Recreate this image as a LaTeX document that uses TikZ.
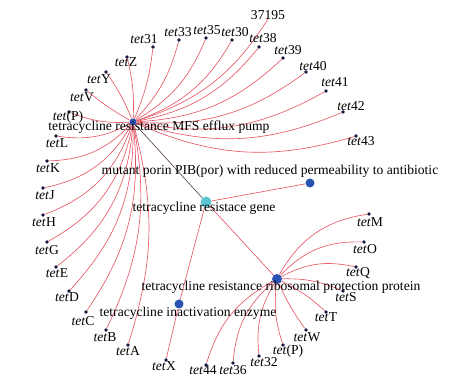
\documentclass[tikz,border=0pt]{standalone}
\usepackage{fontspec}
\setmainfont{Liberation Serif}
\usetikzlibrary{backgrounds}
\definecolor{edgered}{RGB}{230,88,102}
\definecolor{leafc}{RGB}{22,22,62}
\definecolor{hubblue}{RGB}{42,82,178}
\definecolor{genecyan}{RGB}{92,198,208}
\definecolor{darkedge}{RGB}{80,60,62}
\begin{document}
\begin{tikzpicture}[x=1pt,y=-1pt,
  edge/.style={draw=edgered,line width=0.65pt},
  leaf/.style={circle,fill=leafc,inner sep=0pt,minimum size=3.8pt},
  hub/.style={circle,fill=hubblue,inner sep=0pt},
  genenode/.style={circle,fill=genecyan,inner sep=0pt,minimum size=11pt},
  lab/.style={anchor=base,inner sep=0pt,font=\fontsize{13.6}{15}\selectfont}]
\useasboundingbox (0,0) rectangle (451,387);
% main nodes
\node[hub,minimum size=7pt] (mfs) at (133,122) {};
\node[genenode] (gene) at (206,202) {};
\node[hub,minimum size=9pt] (porin) at (310,183) {};
\node[hub,minimum size=9pt] (inact) at (179,304) {};
\node[hub,minimum size=10pt] (ribo) at (277,279) {};
\node[leaf] (tX) at (166,360) {};
\coordinate (m0) at (268,19);
% MFS leaves
\foreach \n/\x/\y/\lx/\ly/\sfx/\b/\a in {
  t30/232/40/235/37/30/right/20,
  t38/259/47/263/43/38/right/20,
  t39/283/58/288/55/39/right/20,
  t40/306/72/313/71/40/right/20,
  t41/326/91/335/87/41/right/20,
  t42/343/112/351/111/42/right/20,
  t43/356/136/361/146/43/right/20,
  t35/206/38/207/35/35/right/18,
  t33/179/40/178/37/33/right/14,
  t31/153/47/144/44/31/right/8,
  tZ/127/57/126/67/Z/right/8,
  tY/106/72/99/84/Y/right/6,
  tV/86/90/82/102/V/left/5,
  tP/69/112/68/121/(P)/left/12,
  tL/56/136/57/148/L/left/18,
  tK/47/161/48/173/K/left/22,
  tJ/43/188/45/200/J/left/24,
  tH/43/215/44/227/H/left/25,
  tG/47/242/47/255/G/left/25,
  tE/56/267/57/278/E/left/24,
  tD/69/291/67/302/D/left/22,
  tC/86/312/83/326/C/left/20,
  tB/106/330/105/342/B/left/18,
  tA/128/345/128/356/A/left/16}{
  \node[leaf] (\n) at (\x,\y) {};
  \node[lab] (\n-l) at (\lx,\ly) {\textit{tet}\sfx};
  \begin{scope}[on background layer]
    \draw[edge] (mfs) to[bend \b=\a] (\n);
  \end{scope}
}
% ribosomal leaves
\foreach \n/\x/\y/\lx/\ly/\sfx/\b/\a in {
  rM/369/214/370/227/M/left/26,
  rO/364/242/365/254/O/left/24,
  rQ/356/267/358/277/Q/left/20,
  rS/343/291/346/302/S/left/12,
  rT/326/312/326/322/T/left/8,
  rW/306/330/307/342/W/right/6,
  rP/283/345/288/355/(P)/right/12,
  r32/259/356/264/367/32/right/18,
  r36/233/363/233/375/36/right/22,
  r44/206/365/203/375/44/right/22}{
  \node[leaf] (\n) at (\x,\y) {};
  \node[lab] (\n-l) at (\lx,\ly) {\textit{tet}\sfx};
  \begin{scope}[on background layer]
    \draw[edge] (ribo) to[bend \b=\a] (\n);
  \end{scope}
}
\begin{scope}[on background layer]
  \draw[edge] (mfs) to[bend right=20] (m0);
  \draw[edge] (gene) -- (porin);
  \draw[edge] (gene) -- (ribo);
  \draw[edge] (gene) -- (inact);
  \draw[edge] (inact) -- (tX);
  \draw[draw=darkedge,line width=0.6pt] (mfs) -- (gene);
\end{scope}
% labels
\node[lab] (m0-l) at (268,20) {37195};
\node[lab] (tX-l) at (164,371) {\textit{tet}X};
\node[lab] (mfs-l) at (159,131) {tetracycline resistance MFS efflux pump};
\node[lab] (porin-l) at (270,175) {mutant porin PIB(por) with reduced permeability to antibiotic};
\node[lab] (gene-l) at (204,212) {tetracycline resistace gene};
\node[lab] (ribo-l) at (281,291) {tetracycline resistance ribosomal protection protein};
\node[lab] (inact-l) at (188,317) {tetracycline inactivation enzyme};
\end{tikzpicture}
\end{document}
